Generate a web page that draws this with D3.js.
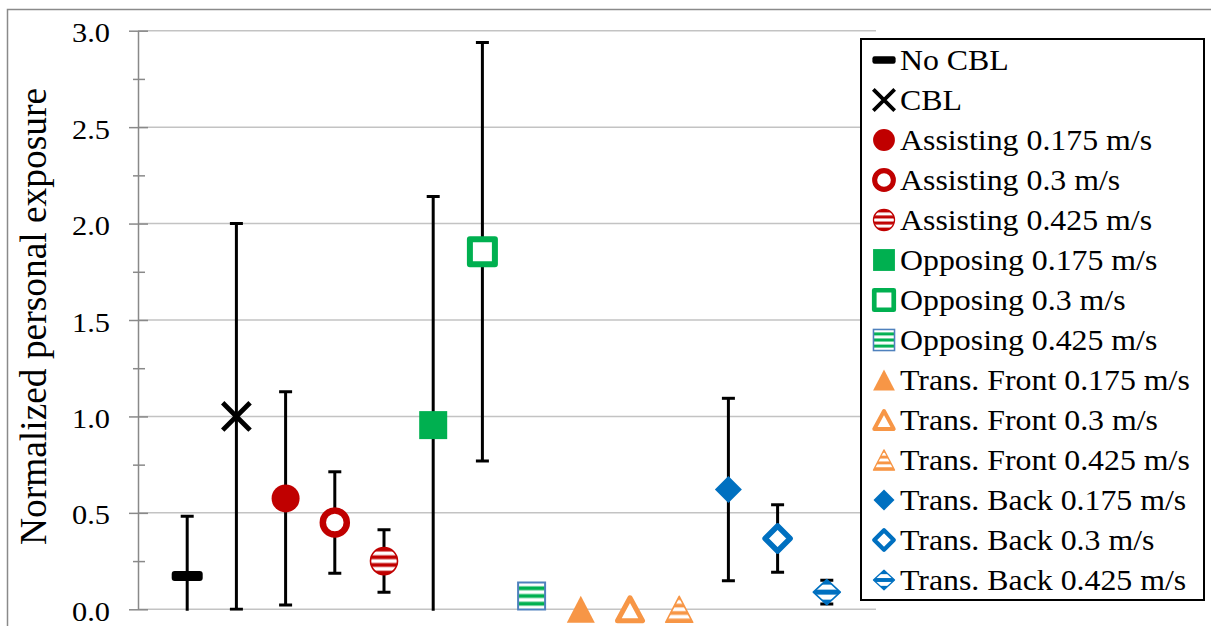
<!DOCTYPE html>
<html>
<head>
<meta charset="utf-8">
<script src="https://cdn.jsdelivr.net/npm/d3@7"></script>
<style>
  html, body { margin: 0; padding: 0; background: #fff; }
  svg { display: block; }
</style>
</head>
<body>
<svg id="chart" width="1211" height="626"></svg>
<script>
// ---- data ----
const categories = [
  "No CBL", "CBL",
  "Assisting 0.175 m/s", "Assisting 0.3 m/s", "Assisting 0.425 m/s",
  "Opposing 0.175 m/s", "Opposing 0.3 m/s", "Opposing 0.425 m/s",
  "Trans. Front 0.175 m/s", "Trans. Front 0.3 m/s", "Trans. Front 0.425 m/s",
  "Trans. Back 0.175 m/s", "Trans. Back 0.3 m/s", "Trans. Back 0.425 m/s"
];
const values = [0.173, 1.0, 0.575, 0.45, 0.25, 0.955, 1.854, 0.069, 0.0, 0.0, 0.0, 0.621, 0.367, 0.089];
const errors = [0.31, 1.0, 0.553, 0.263, 0.162, 1.185, 1.085, 0.0, 0.0, 0.0, 0.0, 0.473, 0.175, 0.062];
const yTicks = [0, 0.5, 1.0, 1.5, 2.0, 2.5, 3.0];
const yMinorTicks = [0.25, 0.75, 1.25, 1.75, 2.25, 2.75];
const shapes = ["dash", "x", "circle", "circle", "circle", "square", "square", "square",
                "triangle", "triangle", "triangle", "diamond", "diamond", "diamond"];
const styles = ["filled", "filled", "filled", "hollow", "striped", "filled", "hollow", "striped",
                "filled", "hollow", "striped", "filled", "hollow", "striped"];
const colors = ["#000000", "#000000", "#C00000", "#C00000", "#C00000", "#00B050", "#00B050", "#00B050",
                "#F79646", "#F79646", "#F79646", "#0070C0", "#0070C0", "#0070C0"];
const yLabel = "Normalized personal exposure";

// ---- layout ----
const svg = d3.select("#chart");
const plot = { left: 138, right: 876, top: 30.7, bottom: 609.3 };
const x = d3.scaleLinear().domain([0, categories.length + 1]).range([plot.left, plot.right]);
const y = d3.scaleLinear().domain([0, 3]).range([plot.bottom, plot.top]);
const FONT = "Liberation Serif";

// outer chart border
svg.append("rect").attr("x", 7.5).attr("y", 9.5).attr("width", 1240).attr("height", 700)
  .attr("fill", "none").attr("stroke", "#8a8a8a").attr("stroke-width", 1.5);

const defs = svg.append("defs");
function stripePattern(id, color, n, startColored) {
  const p = defs.append("pattern").attr("id", id)
    .attr("patternUnits", "objectBoundingBox").attr("patternContentUnits", "objectBoundingBox")
    .attr("width", 1).attr("height", 1);
  p.append("rect").attr("x", 0).attr("y", 0).attr("width", 1).attr("height", 1).attr("fill", "#fff");
  for (let i = 0; i < n; i++) {
    const colored = startColored ? (i % 2 === 0) : (i % 2 === 1);
    if (colored) p.append("rect").attr("x", 0).attr("y", i / n).attr("width", 1).attr("height", 1 / n).attr("fill", color);
  }
}
stripePattern("stripe-circle", "#C00000", 7, true);
stripePattern("stripe-square", "#00B050", 7, false);
stripePattern("stripe-triangle", "#F79646", 7, true);
stripePattern("stripe-diamond", "#0070C0", 5, true);

defs.append("clipPath").attr("id", "plotclip").append("rect")
  .attr("x", plot.left - 20).attr("y", plot.top - 20)
  .attr("width", plot.right - plot.left + 40).attr("height", plot.bottom - plot.top + 21.5);

// gridlines
svg.append("g").selectAll("line").data(yTicks).join("line")
  .attr("x1", plot.left).attr("x2", plot.right)
  .attr("y1", d => y(d)).attr("y2", d => y(d))
  .attr("stroke", "#c3c3c3").attr("stroke-width", 1.5);

// minor ticks
const minorAxis = d3.axisLeft(y).tickValues(yMinorTicks).tickFormat("").tickSize(5).tickSizeOuter(0);
const gMinor = svg.append("g").attr("transform", `translate(${plot.left},0)`).call(minorAxis);
gMinor.select(".domain").remove();
gMinor.selectAll(".tick line").attr("stroke", "#898989").attr("stroke-width", 1.5);
gMinor.selectAll(".tick").append("line").attr("x1", 0).attr("x2", 7)
  .attr("stroke", "#898989").attr("stroke-width", 1.5);

// major axis
const yAxis = d3.axisLeft(y).tickValues(yTicks).tickFormat(d3.format(".1f"))
  .tickSize(9).tickSizeOuter(0).tickPadding(19);
const gAxis = svg.append("g").attr("transform", `translate(${plot.left},0)`).call(yAxis);
gAxis.attr("font-family", FONT);
gAxis.select(".domain").attr("stroke", "#898989").attr("stroke-width", 1.5);
gAxis.selectAll(".tick line").attr("stroke", "#898989").attr("stroke-width", 1.5);
gAxis.selectAll(".tick").append("line").attr("x1", 0).attr("x2", 10)
  .attr("stroke", "#898989").attr("stroke-width", 1.5);
gAxis.selectAll(".tick text")
  .attr("font-family", FONT).attr("font-size", 27).attr("fill", "#000")
  .attr("dy", "0.41em").attr("textLength", 38).attr("lengthAdjust", "spacingAndGlyphs");

// y label
svg.append("text").text(yLabel)
  .attr("transform", "translate(46,316.5) rotate(-90)")
  .attr("text-anchor", "middle").attr("font-family", FONT).attr("font-size", 37)
  .attr("textLength", 457).attr("lengthAdjust", "spacingAndGlyphs").attr("fill", "#000");

// marker drawing
function drawMarker(g, shape, style, color, k) {
  if (shape === "dash") {
    g.append("rect").attr("x", -15.5 * k).attr("y", -5 * k).attr("width", 31 * k).attr("height", 10 * k)
      .attr("rx", 3 * k).attr("fill", color);
  } else if (shape === "x") {
    g.append("path").attr("d", `M${-12 * k},${-12 * k}L${12 * k},${12 * k}M${-12 * k},${12 * k}L${12 * k},${-12 * k}`)
      .attr("stroke", color).attr("stroke-width", 4.8 * k).attr("stroke-linecap", "square").attr("fill", "none");
  } else if (shape === "circle") {
    if (style === "filled") g.append("circle").attr("r", 14 * k).attr("fill", color);
    else if (style === "hollow") g.append("circle").attr("r", 12 * k).attr("fill", "#fff")
      .attr("stroke", color).attr("stroke-width", 6.5 * k);
    else g.append("circle").attr("r", 13.5 * k).attr("fill", "url(#stripe-circle)")
      .attr("stroke", color).attr("stroke-width", 1.6 * k);
  } else if (shape === "square") {
    if (style === "filled") g.append("rect").attr("x", -14 * k).attr("y", -14 * k)
      .attr("width", 28 * k).attr("height", 28 * k).attr("fill", color);
    else if (style === "hollow") g.append("rect").attr("x", -12.5 * k).attr("y", -12.5 * k)
      .attr("width", 25 * k).attr("height", 25 * k).attr("fill", "#fff")
      .attr("stroke", color).attr("stroke-width", 6 * k).attr("stroke-linejoin", "round");
    else g.append("rect").attr("x", -13.5 * k).attr("y", -13.5 * k)
      .attr("width", 27 * k).attr("height", 27 * k).attr("fill", "url(#stripe-square)")
      .attr("stroke", "#4F81BD").attr("stroke-width", 2 * k);
  } else if (shape === "triangle") {
    const tri = (w, h) => `M0,${-h * k}L${w * k},${h * k}L${-w * k},${h * k}Z`;
    if (style === "filled") g.append("path").attr("d", tri(14, 13.5)).attr("fill", color);
    else if (style === "hollow") g.append("path").attr("d", tri(12.5, 11.5)).attr("fill", "#fff")
      .attr("stroke", color).attr("stroke-width", 5 * k).attr("stroke-linejoin", "round");
    else g.append("path").attr("d", tri(13.5, 13)).attr("fill", "url(#stripe-triangle)")
      .attr("stroke", color).attr("stroke-width", 1.6 * k).attr("stroke-linejoin", "round");
  } else if (shape === "diamond") {
    const dia = (w, h) => `M0,${-h * k}L${w * k},0L0,${h * k}L${-w * k},0Z`;
    if (style === "filled") g.append("path").attr("d", dia(13.5, 13.5)).attr("fill", color);
    else if (style === "hollow") g.append("path").attr("d", dia(12.5, 12.5)).attr("fill", "#fff")
      .attr("stroke", color).attr("stroke-width", 5.5 * k).attr("stroke-linejoin", "round");
    else g.append("path").attr("d", dia(13.5, 12.5)).attr("fill", "url(#stripe-diamond)")
      .attr("stroke", color).attr("stroke-width", 1.6 * k).attr("stroke-linejoin", "round");
  }
}

// error bars
const data = categories.map((c, i) => ({ c, i, v: values[i], e: errors[i] }));
const gErr = svg.append("g").attr("clip-path", "url(#plotclip)");
data.filter(d => d.e > 0).forEach(d => {
  const cx = x(d.i + 1);
  const g = gErr.append("g").attr("stroke", "#000").attr("stroke-width", 3);
  g.append("line").attr("x1", cx).attr("x2", cx).attr("y1", y(d.v - d.e)).attr("y2", y(d.v + d.e));
  g.append("line").attr("x1", cx - 6.5).attr("x2", cx + 6.5).attr("y1", y(d.v + d.e)).attr("y2", y(d.v + d.e));
  g.append("line").attr("x1", cx - 6.5).attr("x2", cx + 6.5).attr("y1", y(d.v - d.e)).attr("y2", y(d.v - d.e));
});

// markers
data.forEach(d => {
  const g = svg.append("g").attr("transform", `translate(${x(d.i + 1)},${y(d.v)})`);
  drawMarker(g, shapes[d.i], styles[d.i], colors[d.i], 1);
});

// legend
const leg = { x: 861, y: 39, w: 343, h: 561, rowStart: 60, rowStep: 40, symX: 884, textX: 900 };
svg.append("rect").attr("x", leg.x).attr("y", leg.y).attr("width", leg.w).attr("height", leg.h)
  .attr("fill", "#fff").attr("stroke", "#000").attr("stroke-width", 2);
categories.forEach((c, i) => {
  const cy = leg.rowStart + i * leg.rowStep;
  const g = svg.append("g").attr("transform", `translate(${leg.symX},${cy})`);
  drawMarker(g, shapes[i], styles[i], colors[i], shapes[i] === "dash" ? 0.75 : 0.78);
  const t = svg.append("text").attr("x", leg.textX).attr("y", cy + 9.5)
    .attr("font-family", FONT).attr("font-size", 28.5).attr("fill", "#000").text(c);
  const w = t.node().getComputedTextLength();
  t.attr("textLength", w * 1.117).attr("lengthAdjust", "spacingAndGlyphs");
});
</script>
</body>
</html>
